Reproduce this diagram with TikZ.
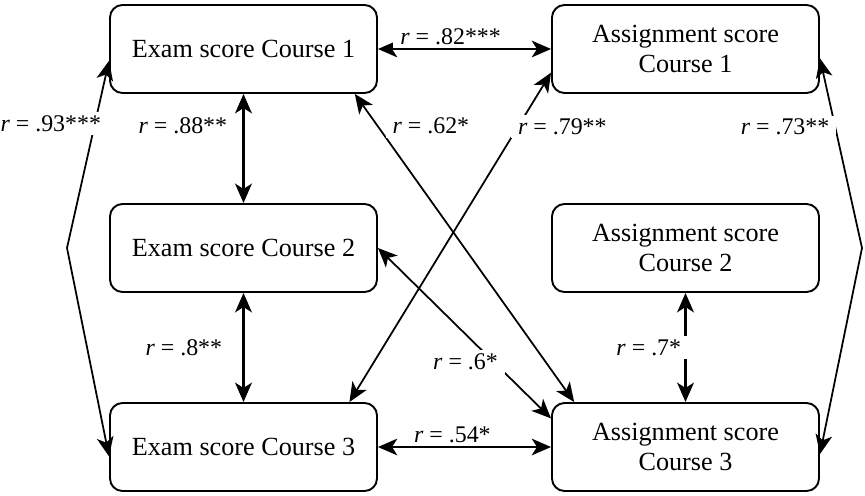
\documentclass[tikz,border=0pt]{standalone}
\usepackage{fontspec}
\setmainfont{Liberation Serif}
\usetikzlibrary{arrows.meta,positioning}

\begin{document}
\begin{tikzpicture}[node distance=3.98cm and 8.84cm,on grid,
    >={Stealth[length=11pt,width=9.5pt,inset=3pt]},
    box/.style={draw,line width=1.1pt,rounded corners=0.25cm,minimum width=5.34cm,minimum height=1.76cm,align=center,font=\fontsize{14.9}{17}\selectfont},
    corr/.style={fill=white,inner xsep=4pt,inner ysep=2pt,font=\fontsize{13.6}{16}\selectfont},
    link/.style={<->,line width=1pt},
    vlink/.style={<->,line width=1.5pt}]
    \useasboundingbox (-4.87,0.98) rectangle (12.43,-8.92);
    \node[box] (e1) {Exam score Course 1};
    \node[box] [below=of e1] (e2) {Exam score Course 2};
    \node[box] [below=of e2] (e3) {Exam score Course 3};
    \node[box] [right=of e1] (a1) {Assignment score\\Course 1};
    \node[box] [right=of e2] (a2) {Assignment score\\Course 2};
    \node[box] [right=of e3] (a3) {Assignment score\\Course 3};
    \coordinate [left=3.53cm of e2] (lm);
    \coordinate [right=3.53cm of a2] (rm);
    \draw[link] (e1.east) -- node[corr,pos=0.42,anchor=south] {\textit{r} = .82***} (a1.west);
    \draw[link] (e3.east) -- node[corr,pos=0.43,anchor=south] {\textit{r} = .54*} (a3.west);
    \draw[vlink] (e1) -- node[corr,pos=0.29,left=0.16cm] {\textit{r} = .88**} (e2);
    \draw[vlink] (e2) -- node[corr,midway,left=0.26cm] {\textit{r} = .8**} (e3);
    \draw[vlink] (a2) -- node[corr,midway,anchor=east,xshift=0.08cm] {\textit{r} = .7*} (a3);
    \draw[link] (e1.185) -- node[corr,pos=0.335,anchor=east,xshift=0.28cm] {\textit{r} = .93***} (lm) -- (e3.184);
    \draw[link] (a1.356) -- node[corr,pos=0.363,anchor=east,xshift=0.04cm] {\textit{r} = .73**} (rm) -- (a3.357);
    \draw[link] (e1.338) -- node[corr,pos=0.104,anchor=west,xshift=0.14cm] {\textit{r} = .62*} (a3.158);
    \draw[link] (a1.190) -- node[corr,pos=0.163,anchor=west,xshift=-0.16cm] {\textit{r} = .79**} (e3.23);
    \draw[link] (e2.east) -- node[corr,pos=0.669,anchor=east,xshift=0.24cm] {\textit{r} = .6*} (a3.168);
\end{tikzpicture}
\end{document}
